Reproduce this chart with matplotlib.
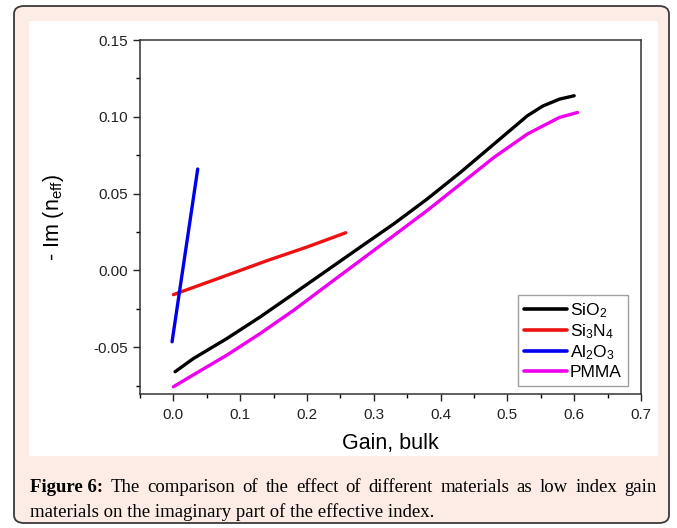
import matplotlib
matplotlib.use('Agg')
import numpy as np
from matplotlib import pyplot as plt
import matplotlib.ticker as mtick
from matplotlib.patches import FancyBboxPatch, Rectangle

plt.rcParams['font.family'] = ['Liberation Sans', 'DejaVu Sans']
plt.rcParams['mathtext.fontset'] = 'custom'
plt.rcParams['mathtext.rm'] = 'Liberation Sans'
plt.rcParams['mathtext.it'] = 'Liberation Sans'
plt.rcParams['axes.unicode_minus'] = False

# values
sio2_x = [0.0025, 0.03, 0.08, 0.13, 0.18, 0.23, 0.28, 0.33, 0.38, 0.43, 0.48, 0.53, 0.553, 0.578, 0.6]
sio2_y = [-0.066, -0.0574, -0.0444, -0.0303, -0.0152, 0.0, 0.0152, 0.0303, 0.0465, 0.0639, 0.0823, 0.1007, 0.107, 0.1115, 0.1137]
si3n4_x = [0.0, 0.07, 0.14, 0.2, 0.258]
si3n4_y = [-0.0158, -0.0048, 0.0063, 0.0152, 0.0245]
al2o3_x = [-0.002, 0.0364]
al2o3_y = [-0.0465, 0.066]
pmma_x = [0.0, 0.03, 0.08, 0.13, 0.18, 0.23, 0.28, 0.33, 0.38, 0.43, 0.48, 0.53, 0.578, 0.605]
pmma_y = [-0.0758, -0.068, -0.0552, -0.0411, -0.026, -0.0097, 0.0065, 0.0227, 0.039, 0.0563, 0.0736, 0.0888, 0.0996, 0.1028]
labels = ['SiO$_2$', 'Si$_3$N$_4$', 'Al$_2$O$_3$', 'PMMA']
colors = ['black', '#ee1111', '#0000ee', '#ee00ee']

W, H = 677, 528
fig = plt.figure(figsize=(W/100, H/100), dpi=100, facecolor='white')

# page frame: peach rounded box, white chart panel (behind the axes)
frame = FancyBboxPatch((14/W, 1-523/H), (669-14)/W, (523-6)/H,
                       boxstyle='round,pad=0,rounding_size=0.015',
                       transform=fig.transFigure, facecolor='#fdece5',
                       edgecolor='#3a3a3a', linewidth=1.3, zorder=-10)
fig.patches.append(frame)
panel = Rectangle((29/W, 1-456/H), (658-29)/W, (456-21)/H, transform=fig.transFigure,
                  facecolor='white', edgecolor='none', zorder=-9)
fig.patches.append(panel)

ax = fig.add_axes([140/W, 1-394/H, (641-140)/W, (394-40)/H])
ax.patch.set_alpha(0)
series = [(sio2_x, sio2_y), (si3n4_x, si3n4_y), (al2o3_x, al2o3_y), (pmma_x, pmma_y)]
for (xs, ys), lab, c in zip(series, labels, colors):
    ax.plot(xs, ys, color=c, lw=2.4, label=lab, solid_capstyle='round')

ax.set_xlim(-0.05, 0.7)
ax.set_ylim(-0.0805, 0.15)
ax.xaxis.set_major_locator(mtick.MultipleLocator(0.1))
ax.xaxis.set_minor_locator(mtick.MultipleLocator(0.05))
ax.yaxis.set_major_locator(mtick.MultipleLocator(0.05))
ax.yaxis.set_minor_locator(mtick.MultipleLocator(0.025))
ax.xaxis.set_major_formatter(mtick.FormatStrFormatter('%.1f'))
ax.yaxis.set_major_formatter(mtick.FormatStrFormatter('%.2f'))
ax.tick_params(which='major', direction='out', length=5, width=1, labelsize=11, colors='#222222')
ax.tick_params(which='minor', direction='out', length=3, width=1)
ax.tick_params(axis='x', pad=5)
for s in ax.spines.values():
    s.set_linewidth(1.1)
    s.set_color('#333333')

ax.set_xlabel('Gain, bulk', fontsize=15.5, labelpad=8)
ax.set_ylabel(r'- Im (n$_{\mathrm{eff}}$)', fontsize=15.5, labelpad=20)

leg = ax.legend(loc='lower right', bbox_to_anchor=(628/W, 1-386/H), bbox_transform=fig.transFigure,
                fontsize=12.5, frameon=True, fancybox=False, handlelength=2.5, handletextpad=0.15,
                labelspacing=0.15, borderpad=0.35, borderaxespad=0)
leg.get_frame().set_edgecolor('#888888')
leg.get_frame().set_linewidth(1)
for h in leg.get_lines():
    h.set_linewidth(2.6)

# caption, first line justified word by word
cap_font = ['Liberation Serif', 'DejaVu Serif']
cap_size = 13.5
words1 = 'The comparison of the effect of different materials as low index gain'.split()
line2 = 'materials on the imaginary part of the effective index.'
fig.canvas.draw()
r = fig.canvas.get_renderer()
x0, x1 = 30, 657
y1, y2 = 1-492/H, 1-517/H
b = fig.text(x0/W, y1, 'Figure 6:', fontsize=cap_size, fontweight='bold', family=cap_font)
bw = b.get_window_extent(r).width
tw = []
for w in words1:
    t = fig.text(0, 0, w, fontsize=cap_size, family=cap_font)
    tw.append(t.get_window_extent(r).width)
    t.remove()
gap = (x1 - x0 - bw - sum(tw)) / len(words1)
x = x0 + bw + gap
for w, wd in zip(words1, tw):
    fig.text(x/W, y1, w, fontsize=cap_size, family=cap_font)
    x += wd + gap
fig.text(x0/W, y2, line2, fontsize=cap_size, family=cap_font)

fig.savefig('out.png', dpi=100, facecolor='white')
